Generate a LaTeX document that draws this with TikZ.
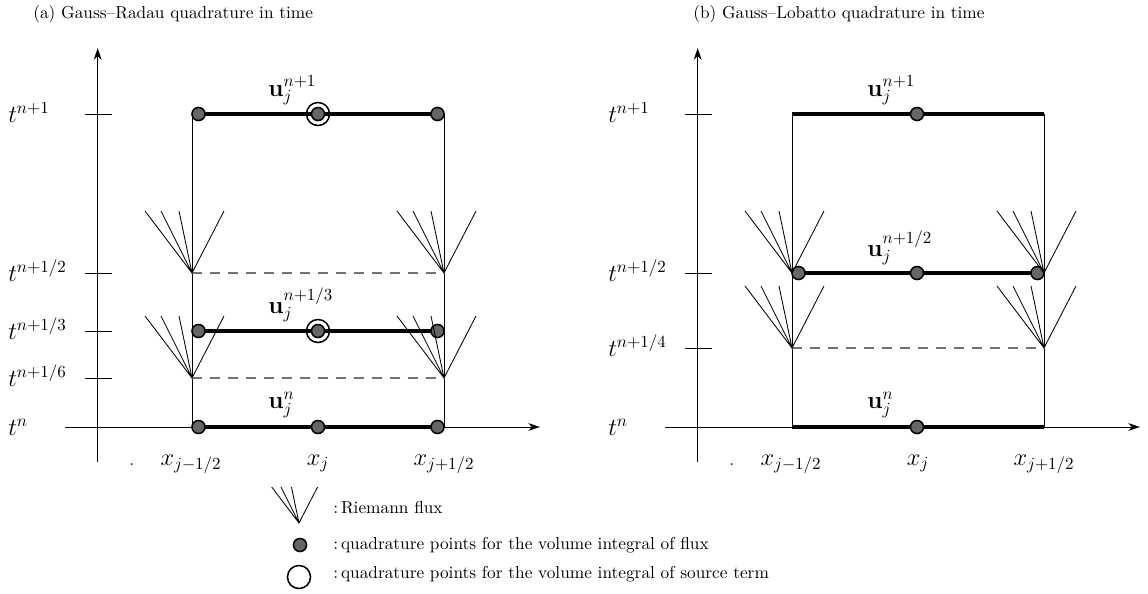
\documentclass[tikz,border=0pt]{standalone}
\usetikzlibrary{arrows.meta}
\begin{document}
\begin{tikzpicture}[x=0.59pt,y=-0.59pt,
  thinline/.style={line width=0.5pt},
  axisline/.style={line width=0.5pt,-{Stealth[length=7pt,width=4.6pt]}},
  thickline/.style={line width=1.8pt},
  dashline/.style={line width=0.7pt,black!55,dash pattern=on 5.9pt off 4.7pt},
  qdot/.style={circle,draw=black,line width=0.9pt,fill=black!60,minimum size=7.7pt,inner sep=0pt},
  ring/.style={circle,draw=black,line width=0.9pt,minimum size=13.6pt,inner sep=0pt},
  mathfont/.style={font=\fontsize{14}{17}\selectfont},
  tlab/.style={mathfont,anchor=base west,inner sep=0pt},
  ulab/.style={mathfont,anchor=base west,inner sep=0pt},
  xlab/.style={mathfont,anchor=base,inner sep=0pt},
  txt/.style={font=\fontsize{10.2}{12}\selectfont,anchor=base west,inner sep=0pt},
  rfan/.pic={\draw[line width=0.5pt] (-47,-62) -- (0,0) -- (-31,-62) (-13,-62) -- (0,0) -- (32,-62);}
]
\useasboundingbox (0,0) rectangle (1148,594);

% titles
\node[txt] (ta) at (33,18) {(a) Gauss--Radau quadrature in time};
\node[txt] (tb) at (693,18) {(b) Gauss--Lobatto quadrature in time};

%%%%%%%%%%%%%%%% left panel
\coordinate (a-x0) at (65,427); \coordinate (a-x1) at (540,427);
\coordinate (a-y0) at (97.7,462); \coordinate (a-y1) at (97.7,48);
\draw[axisline] (a-x0) -- (a-x1);
\draw[axisline] (a-y0) -- (a-y1);
\foreach \y in {114,273,331,378} \draw[thinline] (85,\y) -- (112,\y);
\node[tlab] (a-t1) at (8,122) {$t^{n+1}$};
\node[tlab] (a-t2) at (8,281) {$t^{n+1/2}$};
\node[tlab] (a-t3) at (8,339) {$t^{n+1/3}$};
\node[tlab] (a-t6) at (8,386) {$t^{n+1/6}$};
\node[tlab] (a-t0) at (8,435) {$t^{n}$};

\coordinate (a-L1) at (192,114); \coordinate (a-R1) at (444,114);
\coordinate (a-L2) at (192,273); \coordinate (a-R2) at (444,273);
\coordinate (a-L3) at (192,331); \coordinate (a-R3) at (444,331);
\coordinate (a-L6) at (192,378); \coordinate (a-R6) at (444,378);
\coordinate (a-L0) at (192,427); \coordinate (a-R0) at (444,427);
\draw[thinline] (a-L1) -- (a-L0);
\draw[thinline] (a-R1) -- (a-R0);
\draw[dashline] (a-L2) -- (a-R2);
\draw[dashline] (a-L6) -- (a-R6);
\draw[thickline] (a-L1) -- (a-R1);
\draw[thickline] (a-L3) -- (a-R3);
\draw[thickline] (a-L0) -- (a-R0);

\foreach \y/\k in {114/1,331/3,427/0}{
  \node[qdot] (a-d\k l) at (198.5,\y) {};
  \node[qdot] (a-d\k c) at (318,\y) {};
  \node[qdot] (a-d\k r) at (437.5,\y) {};
}
\node[ring] (a-r1) at (318,114) {};
\node[ring] (a-r3) at (318,331) {};

\pic at (a-L2) {rfan};
\pic at (a-R2) {rfan};
\pic at (a-L6) {rfan};
\pic at (a-R6) {rfan};

\node[ulab] (a-u1) at (268,96) {$\mathbf{u}_j^{n+1}$};
\node[ulab] (a-u3) at (268,313) {$\mathbf{u}_j^{n+1/3}$};
\node[ulab] (a-u0) at (268,408) {$\mathbf{u}_j^{n}$};

\node[xlab] (a-xl) at (191,465) {$x_{j-1/2}$};
\node[xlab] (a-xc) at (318,465) {$x_{j}$};
\node[xlab] (a-xr) at (444,465) {$x_{j+1/2}$};
\node[txt] (a-dot) at (129,465) {.};

%%%%%%%%%%%%%%%% right panel
\coordinate (b-x0) at (665,427); \coordinate (b-x1) at (1140,427);
\coordinate (b-y0) at (697.7,462); \coordinate (b-y1) at (697.7,48);
\draw[axisline] (b-x0) -- (b-x1);
\draw[axisline] (b-y0) -- (b-y1);
\foreach \y in {114,273,348} \draw[thinline] (685,\y) -- (712,\y);
\node[tlab] (b-t1) at (608,122) {$t^{n+1}$};
\node[tlab] (b-t2) at (608,281) {$t^{n+1/2}$};
\node[tlab] (b-t4) at (608,356) {$t^{n+1/4}$};
\node[tlab] (b-t0) at (608,435) {$t^{n}$};

\coordinate (b-L1) at (792,114); \coordinate (b-R1) at (1044,114);
\coordinate (b-L2) at (792,273); \coordinate (b-R2) at (1044,273);
\coordinate (b-L4) at (792,348); \coordinate (b-R4) at (1044,348);
\coordinate (b-L0) at (792,427); \coordinate (b-R0) at (1044,427);
\draw[thinline] (b-L1) -- (b-L0);
\draw[thinline] (b-R1) -- (b-R0);
\draw[dashline] (b-L4) -- (b-R4);
\draw[thickline] (b-L1) -- (b-R1);
\draw[thickline] (b-L2) -- (b-R2);
\draw[thickline] (b-L0) -- (b-R0);

\node[qdot] (b-d1c) at (917,114) {};
\node[qdot] (b-d2l) at (798.5,273) {};
\node[qdot] (b-d2c) at (917,273) {};
\node[qdot] (b-d2r) at (1037.5,273) {};
\node[qdot] (b-d0c) at (917,427) {};

\pic at (b-L2) {rfan};
\pic at (b-R2) {rfan};
\pic at (b-L4) {rfan};
\pic at (b-R4) {rfan};

\node[ulab] (b-u1) at (867,96) {$\mathbf{u}_j^{n+1}$};
\node[ulab] (b-u2) at (867,256) {$\mathbf{u}_j^{n+1/2}$};
\node[ulab] (b-u0) at (867,408) {$\mathbf{u}_j^{n}$};

\node[xlab] (b-xl) at (791,465) {$x_{j-1/2}$};
\node[xlab] (b-xc) at (918,465) {$x_{j}$};
\node[xlab] (b-xr) at (1044,465) {$x_{j+1/2}$};
\node[txt] (b-dot) at (729,465) {.};

%%%%%%%%%%%%%%%% legend
\coordinate (lg-f) at (299,523);
\pic[scale=0.58] at (lg-f) {rfan};
\node[qdot] (lg-d) at (300,545) {};
\node[ring] (lg-r) at (299,577) {};
\node[txt] (lg-t1) at (333,513) {:\,Riemann flux};
\node[txt] (lg-t2) at (333,549) {:\,quadrature points for the volume integral of flux};
\node[txt] (lg-t3) at (333,578) {:\,quadrature points for the volume integral of source term};
\end{tikzpicture}
\end{document}
